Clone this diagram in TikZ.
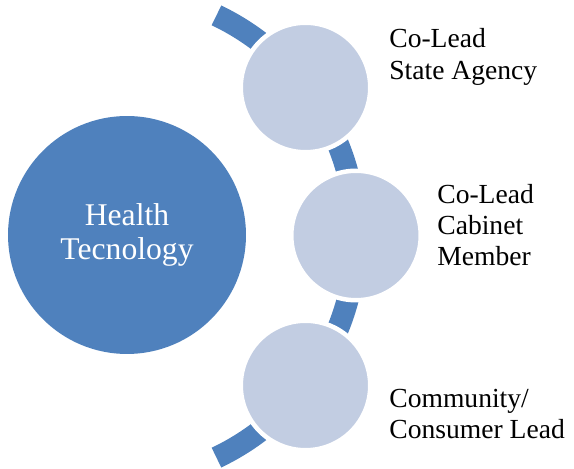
\documentclass[tikz,border=0pt]{standalone}
\usepackage{fontspec}
\setmainfont{Liberation Serif}
\definecolor{techblue}{RGB}{79,129,189}
\definecolor{leadfill}{RGB}{194,205,226}
\begin{document}
\begin{tikzpicture}[x=0.02cm, y=0.02cm,
        hubcircle/.style={circle, fill=techblue, inner sep=0pt, minimum size=4.76cm,
            text=white, align=center, font=\fontsize{18}{19.5}\selectfont},
        leadcircle/.style={circle, fill=leadfill, draw=white, line width=0.09cm,
            inner sep=0pt, minimum size=2.59cm},
        leadlabel/.style={anchor=west, align=left, inner sep=0pt,
            font=\fontsize{15.7}{17.8}\selectfont},
        band/.style={draw=techblue, line width=0.44cm}]
        \useasboundingbox (0, 0) rectangle (574, 469);

        \coordinate (hub) at (111, 232.5);
        \draw[band] (hub) ++(-64.5:245) arc[start angle=-64.5, end angle=64.5, radius=245];

        \node[hubcircle] (health) at (127, 234) {Health\\Tecnology};

        \node[leadcircle] (agency) at (305.5, 381.5) {};
        \node[leadcircle] (cabinet) at (356, 233.5) {};
        \node[leadcircle] (community) at (305.5, 83.5) {};

        \node[leadlabel] (agencylbl) at (389, 412) {Co-Lead\\State Agency};
        \node[leadlabel] (cabinetlbl) at (437, 244) {Co-Lead\\Cabinet\\Member};
        \node[leadlabel] (communitylbl) at (389, 55) {Community/\\Consumer Lead};
    \end{tikzpicture}
\end{document}
